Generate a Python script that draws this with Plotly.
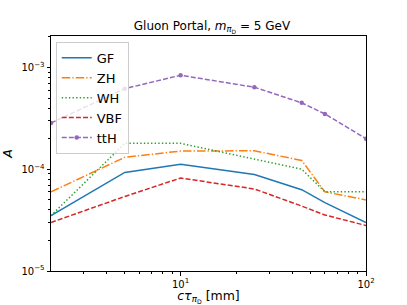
import plotly.graph_objects as go

ctau = [2, 5, 10, 25, 45, 60, 100]
gf = [3.5e-5, 9.3e-5, 1.12e-4, 8.9e-5, 6.3e-5, 4.7e-5, 3.0e-5]
zh = [6.0e-5, 1.31e-4, 1.51e-4, 1.52e-4, 1.22e-4, 6.0e-5, 5.0e-5]
wh = [3.5e-5, 1.8e-4, 1.8e-4, 1.26e-4, 1.0e-4, 6.0e-5, 6.0e-5]
vbf = [3.0e-5, 5.4e-5, 8.2e-5, 6.4e-5, 4.35e-5, 3.55e-5, 2.8e-5]
tth = [2.85e-4, 6.2e-4, 8.4e-4, 6.4e-4, 4.5e-4, 3.5e-4, 2.0e-4]

x_ticks = [10, 100]
x_ticktext = ["10<sup>1</sup>", "10<sup>2</sup>"]
y_ticks = [1e-5, 1e-4, 1e-3]
y_ticktext = ["10<sup>\u22125</sup>", "10<sup>\u22124</sup>", "10<sup>\u22123</sup>"]
x_minor = [3, 4, 5, 6, 7, 8, 9, 20, 30, 40, 50, 60, 70, 80, 90]
y_minor = [k * 10 ** e for e in (-5, -4, -3) for k in range(2, 10)]

series = [
    ("GF", gf, "#1f77b4", "solid", "lines"),
    ("ZH", zh, "#ff7f0e", "8.5px,2.1px,1.3px,2.1px", "lines"),
    ("WH", wh, "#2ca02c", "1.4px,2.2px", "lines"),
    ("VBF", vbf, "#d62728", "5px,2.1px", "lines"),
    ("ttH", tth, "#9467bd", "5px,2.1px", "lines+markers"),
]

fig = go.Figure()
for name, ys, col, dash, mode in series:
    fig.add_trace(go.Scatter(
        x=ctau, y=ys, name=name, mode=mode,
        line=dict(color=col, width=1.5, dash=dash),
        marker=dict(size=4.5, color=col),
    ))

font = "DejaVu Sans, Arial, sans-serif"
axis_common = dict(
    type="log", showgrid=False, zeroline=False, automargin=False,
    showline=True, linecolor="black", linewidth=1, mirror=True,
    ticks="outside", ticklen=3.5, tickwidth=1, tickcolor="black",
    tickfont=dict(size=10, color="black", family=font),
)
fig.update_layout(
    width=407, height=305,
    margin=dict(l=51, r=41, t=36, b=34, autoexpand=False),
    paper_bgcolor="white", plot_bgcolor="white",
    font=dict(family=font, color="black"),
    title=dict(
        text="Gluon Portal, <i>m</i><sub><i>\u03c0</i><sub>D</sub></sub> = 5 GeV",
        x=0.511, xref="paper", xanchor="center", y=0.917, yanchor="middle",
        font=dict(size=12, family=font, color="black"),
    ),
    showlegend=True,
    legend=dict(
        x=0.015, y=0.975, xanchor="left", yanchor="top",
        bgcolor="rgba(255,255,255,0.8)", bordercolor="#cccccc", borderwidth=1,
        font=dict(size=13, family=font, color="black"),
        tracegroupgap=0, itemwidth=30,
    ),
)
fig.update_xaxes(
    **axis_common,
    range=[0.3010, 2],
    tickvals=x_ticks, ticktext=x_ticktext,
    minor=dict(tickvals=x_minor, ticks="outside", ticklen=2, tickwidth=0.8, tickcolor="black", showgrid=False),
    title=dict(text="<i>c\u03c4</i><sub><i>\u03c0</i><sub>D</sub></sub> [mm]", font=dict(size=12.5, family=font), standoff=2),
)
fig.update_yaxes(
    **axis_common,
    range=[-5, -2.69],
    tickvals=y_ticks, ticktext=y_ticktext,
    minor=dict(tickvals=y_minor, ticks="outside", ticklen=2, tickwidth=0.8, tickcolor="black", showgrid=False),
    title=dict(text="<i>A</i>", font=dict(size=12.5, family=font), standoff=6),
)

fig.write_html(
    "out.html",
    config={"displayModeBar": False},
    post_script="document.body.style.margin='0';document.body.style.padding='0';document.body.style.overflow='hidden';",
)
